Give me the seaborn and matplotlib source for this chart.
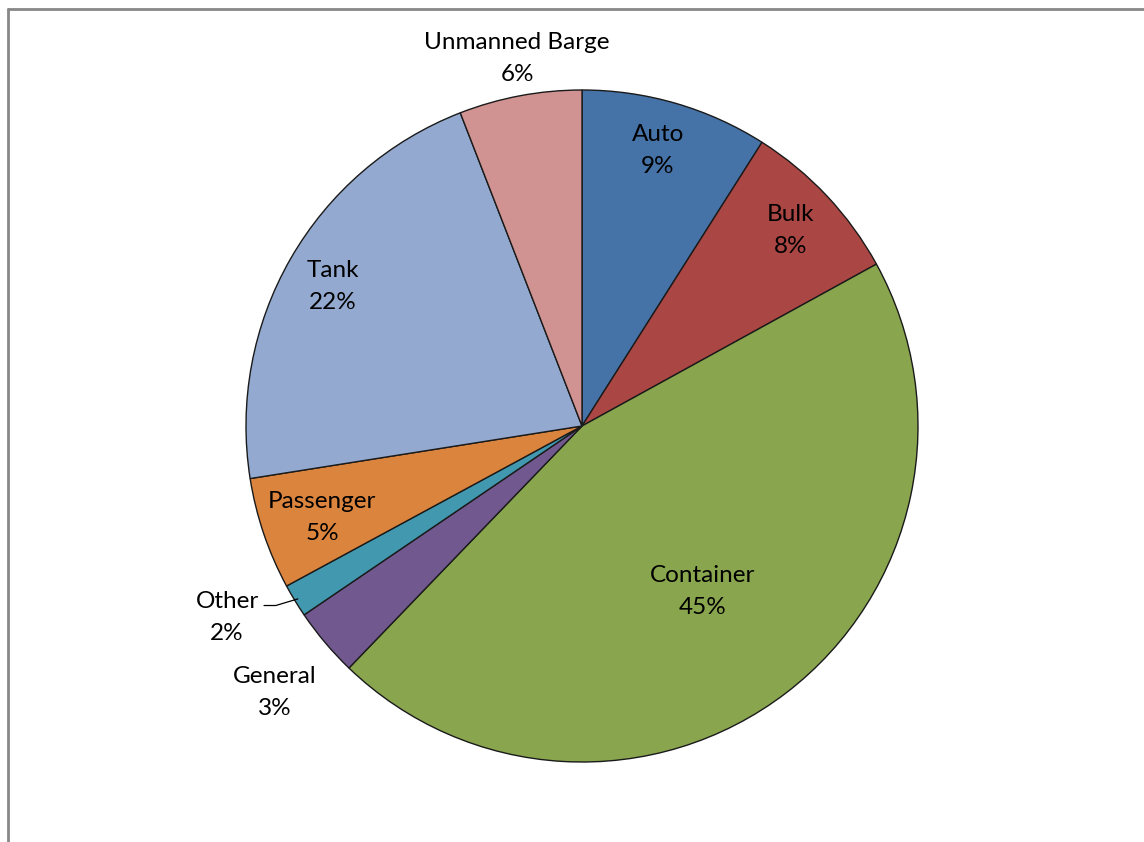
import numpy as np
import matplotlib
matplotlib.use("Agg")
import matplotlib.pyplot as plt
import seaborn as sns

categories = ["Auto", "Bulk", "Container", "General", "Other", "Passenger", "Tank", "Unmanned Barge"]
shares = [9.0, 8.0, 45.2, 3.3, 1.6, 5.4, 21.6, 5.9]
colors = ["#4572A7", "#AA4643", "#89A54E", "#71588F", "#4198AF", "#DB843D", "#93A9CF", "#D19392"]

# label radial distance (fraction of radius) and angular nudge (deg) per slice
label_r = {"Auto": 0.85, "Bulk": 0.85, "Container": 0.61, "General": 1.21,
           "Other": 1.2, "Passenger": 0.82, "Tank": 0.85, "Unmanned Barge": 1.11}
label_dang = {"Auto": 0.8, "Bulk": 0, "Container": -1.3, "General": 0.8,
              "Other": -3.0, "Passenger": 0.6, "Tank": 0.7, "Unmanned Barge": -0.6}

sns.set_theme(style="white")
plt.rcParams["font.family"] = ["Lato", "DejaVu Sans"]

W, H = 1144, 842
fig = plt.figure(figsize=(W / 100, H / 100), dpi=100)
cx, cy, R = 582, 426, 336
ax = fig.add_axes([(cx - R) / W, (H - cy - R) / H, 2 * R / W, 2 * R / H])

wedges, _ = ax.pie(shares, colors=colors, startangle=90, counterclock=False,
                   wedgeprops=dict(edgecolor="#1a1a1a", linewidth=1.0))
ax.set_xlim(-1, 1)
ax.set_ylim(-1, 1)
ax.set_aspect("equal")
ax.axis("off")

total = sum(shares)
for w, name, val in zip(wedges, categories, shares):
    mid = np.deg2rad((w.theta1 + w.theta2) / 2 + label_dang[name])
    r = label_r[name]
    x, y = r * np.cos(mid), r * np.sin(mid)
    ax.text(x, y, f"{name}\n{val / total * 100:.0f}%", ha="center", va="center",
            fontsize=17.5, color="#000000", linespacing=1.65, clip_on=False)
    if name == "Other":
        # leader line from label to slice edge
        t = np.deg2rad((w.theta1 + w.theta2) / 2)
        ex, ey = 0.99 * np.cos(t), 0.99 * np.sin(t)
        ax.plot([x + 0.11, x + 0.145, ex], [y + 0.035, y + 0.035, ey],
                color="#000000", lw=0.9, clip_on=False)

# chart frame (cropped: only left and top edges visible)
fig.add_artist(plt.Line2D([7.5 / W, 7.5 / W], [0, 1 - 8.5 / H], transform=fig.transFigure,
                          color="#888888", lw=2))
fig.add_artist(plt.Line2D([7.5 / W, 1], [1 - 8.5 / H, 1 - 8.5 / H], transform=fig.transFigure,
                          color="#888888", lw=2))

fig.savefig("out.png", dpi=100, facecolor="white")
